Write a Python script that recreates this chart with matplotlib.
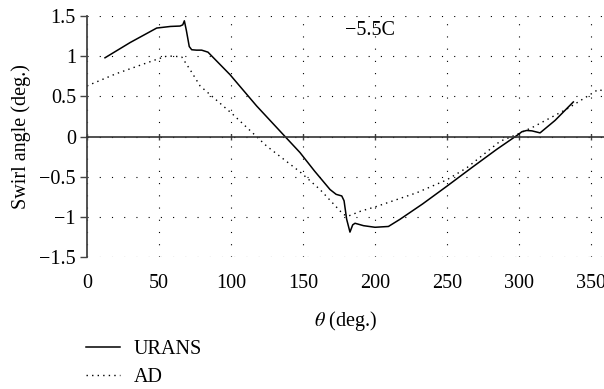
import numpy as np
import matplotlib
matplotlib.use("Agg")
import matplotlib.pyplot as plt

plt.rcParams['font.family'] = ['Liberation Serif', 'DejaVu Serif']
plt.rcParams['mathtext.fontset'] = 'stix'
plt.rcParams['font.size'] = 14.5

# URANS swirl angle vs circumferential position
urans_theta = [12.5, 30, 48.4, 58, 64.6, 66.5, 67.6, 69, 71, 72.7, 76, 79.6, 84,
               99.3, 117.8, 137.5, 147.9, 158, 168.75, 173, 176.9, 178.5, 180.3,
               182.6, 184.5, 186.1, 192, 200, 209.3, 217.4, 233, 249.8, 267,
               284.5, 299.5, 302, 305.3, 309, 314.6, 325, 337.7]
urans_swirl = [0.98, 1.17, 1.35, 1.37, 1.375, 1.39, 1.44, 1.32, 1.12, 1.08, 1.075,
               1.075, 1.05, 0.77, 0.38, 0.0, -0.2, -0.43, -0.66, -0.72, -0.74,
               -0.80, -1.03, -1.19, -1.10, -1.08, -1.11, -1.13, -1.12, -1.03,
               -0.84, -0.62, -0.39, -0.16, 0.025, 0.06, 0.075, 0.07, 0.045, 0.20,
               0.43]

# actuator disk model
ad_theta = [0, 20, 48.4, 55.3, 60, 65.8, 72, 78.5, 101.6, 124.8, 147.9, 161.8,
            178, 181.5, 190, 201.2, 229, 249.8, 263.7, 286.8, 298.4, 310, 333,
            355, 360]
ad_swirl = [0.63, 0.78, 0.96, 1.0, 1.0, 0.99, 0.82, 0.63, 0.27, -0.12, -0.44,
            -0.66, -0.97, -0.99, -0.93, -0.87, -0.70, -0.54, -0.39, -0.06,
            0.025, 0.12, 0.34, 0.585, 0.56]

x_ticks = [0, 50, 100, 150, 200, 250, 300, 350]
y_ticks = [-1.5, -1, -0.5, 0, 0.5, 1, 1.5]
y_ticklabels = ['\u22121.5', '\u22121', '\u22120.5', '0', '0.5', '1', '1.5']

fig = plt.figure(figsize=(6.04, 3.89), dpi=100)
ax = fig.add_axes([87/604, 1-257/389, 1-87/604, (257-16)/389])

ax.plot(urans_theta, urans_swirl, color='black', lw=1.1, label='URANS')
ax.plot(ad_theta, ad_swirl, color='black', lw=1.0, linestyle=(0, (1, 3)), label='AD')

ax.set_xlim(0, 359)
ax.set_ylim(-1.5, 1.5)

for s in ['top', 'right']:
    ax.spines[s].set_visible(False)
ax.spines['left'].set_color('#444444')
ax.spines['left'].set_linewidth(1.3)
ax.spines['bottom'].set_position(('data', 0))
ax.spines['bottom'].set_color('#333333')
ax.spines['bottom'].set_linewidth(1.2)

ax.set_xticks(x_ticks)
ax.tick_params(axis='x', direction='inout', length=5, width=1.0, color='#444444',
               labelbottom=False)
ax.set_yticks(y_ticks)
ax.set_yticklabels(y_ticklabels)
ax.tick_params(axis='y', direction='out', length=5, width=1.0, color='#444444', pad=3)

ax.grid(True, color='black', linestyle=(0, (1, 10)), linewidth=0.8)

# tick labels at the bottom of the frame, not on the zero line
sec = ax.secondary_xaxis('bottom')
sec.set_xticks(x_ticks)
sec.tick_params(length=0, pad=12)
sec.spines['bottom'].set_visible(False)
sec.set_xlabel(r'$\theta$ (deg.)', labelpad=12)

ax.set_ylabel('Swirl angle (deg.)', labelpad=6)

ax.text(179, 1.32, '\u22125.5C', ha='left', va='center')

ax.legend(loc='upper left', bbox_to_anchor=(86/604, 1-340/389),
          bbox_transform=fig.transFigure, frameon=False, handlelength=1.7,
          handletextpad=0.65, labelspacing=0.45, borderpad=0, borderaxespad=0)

fig.savefig('out.png', dpi=100)
